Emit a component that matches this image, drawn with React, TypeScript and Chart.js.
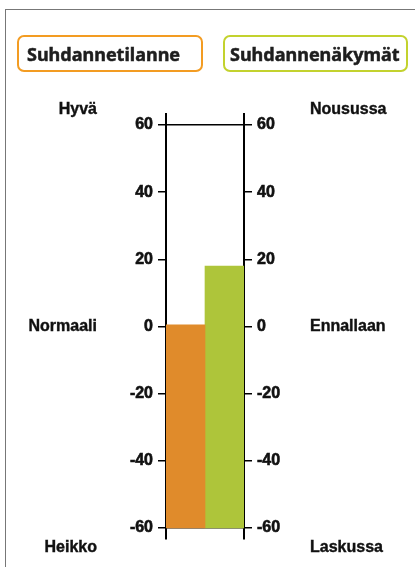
import React, { useEffect, useRef } from "react";
import { Chart, registerables } from "chart.js";

Chart.register(...registerables);

const categories = ["Suhdannetilanne", "Suhdannenäkymät"];
const values = [0.5, 18];
const baseValue = -60;
const tickValues = [-60, -40, -20, 0, 20, 40, 60];
const axisMin = -63.3;
const axisMax = 63.3;
const leftLabels = ["Hyvä", "Normaali", "Heikko"];
const rightLabels = ["Nousussa", "Ennallaan", "Laskussa"];
const sideLabelValues = [64.5, 0, -65.9];

const barColors = ["rgb(224,139,43)", "rgb(174,197,58)"];
const boxColors = ["#F39C22", "#C3D22E"];

const sideLabelPlugin = {
  id: "sideLabels",
  afterDraw(chart: any) {
    const ctx = chart.ctx;
    const y = chart.scales.y;
    const y2 = chart.scales.y2;
    ctx.save();
    ctx.font = "bold 16px 'Liberation Sans', Arial, sans-serif";
    ctx.fillStyle = "#111";
    ctx.strokeStyle = "#111";
    ctx.lineWidth = 0.4;
    ctx.textBaseline = "middle";
    leftLabels.forEach((t, i) => {
      ctx.textAlign = "right";
      const py = y.getPixelForValue(sideLabelValues[i]);
      ctx.fillText(t, y.left - 9, py);
      ctx.strokeText(t, y.left - 9, py);
    });
    rightLabels.forEach((t, i) => {
      ctx.textAlign = "left";
      const py = y.getPixelForValue(sideLabelValues[i]);
      ctx.fillText(t, y2.right + 6, py);
      ctx.strokeText(t, y2.right + 6, py);
    });
    ctx.restore();
  },
};

export default function App() {
  const ref = useRef<HTMLCanvasElement>(null);
  useEffect(() => {
    if (!ref.current) return;
    const tickFont = { family: "'Liberation Sans', Arial, sans-serif", size: 16, weight: "bold" as const };
    const yCommon = (position: "left" | "right", gridOnArea: boolean) => ({
      type: "linear" as const,
      position,
      min: axisMin,
      max: axisMax,
      afterBuildTicks: (s: any) => {
        s.ticks = tickValues.map((v) => ({ value: v }));
      },
      afterFit: (s: any) => {
        s.width = 60;
      },
      ticks: {
        color: "#111",
        font: tickFont,
        padding: 5,
        textStrokeColor: "#111",
        textStrokeWidth: 0.6,
        callback: (v: any) => String(v),
      },
      grid: {
        drawOnChartArea: gridOnArea,
        color: (c: any) => (c.tick && Math.abs(c.tick.value) === 60 ? "#000" : "rgba(0,0,0,0)"),
        tickColor: "#000",
        tickLength: 8,
        lineWidth: 1.5,
      },
      border: { color: "#000", width: 2 },
    });
    const chart = new Chart(ref.current, {
      type: "bar",
      data: {
        labels: [""],
        datasets: categories.map((c, i) => ({
          label: c,
          data: [[baseValue, values[i]]] as any,
          backgroundColor: barColors[i],
          borderWidth: 0,
          barPercentage: 1,
          categoryPercentage: 1,
        })),
      },
      options: {
        animation: false,
        responsive: false,
        devicePixelRatio: 1,
        layout: { padding: { left: 106, right: 111, top: 114, bottom: 28 } },
        plugins: { legend: { display: false }, tooltip: { enabled: false } },
        scales: {
          x: { display: false },
          y: yCommon("left", true) as any,
          y2: yCommon("right", false) as any,
        },
      },
      plugins: [sideLabelPlugin],
    });
    return () => chart.destroy();
  }, []);

  const boxStyle = (i: number): React.CSSProperties => ({
    position: "absolute",
    top: 35,
    left: i === 0 ? 17 : 223,
    width: i === 0 ? 186 : 185,
    height: 37,
    boxSizing: "border-box",
    border: `2.5px solid ${boxColors[i]}`,
    borderRadius: 7,
    display: "flex",
    alignItems: "center",
    paddingLeft: i === 0 ? 8 : 5,
    fontFamily: "'Noto Sans', sans-serif",
    fontWeight: 700,
    fontSize: 18,
    color: "#1e1e1e",
    WebkitTextStroke: "0.5px #1e1e1e",
    whiteSpace: "nowrap",
  });

  return (
    <div style={{ position: "relative", width: 415, height: 567, overflow: "hidden", background: "#fff" }}>
      <style>{`body{margin:0}`}</style>
      <div
        style={{
          position: "absolute",
          left: 5,
          top: 9,
          right: 0,
          bottom: 0,
          borderTop: "1px solid #777",
          borderLeft: "1px solid #777",
        }}
      />
      <canvas ref={ref} width={415} height={567} style={{ position: "absolute", left: 0, top: 0 }} />
      {categories.map((c, i) => (
        <div key={c} style={boxStyle(i)}>
          {c}
        </div>
      ))}
    </div>
  );
}
